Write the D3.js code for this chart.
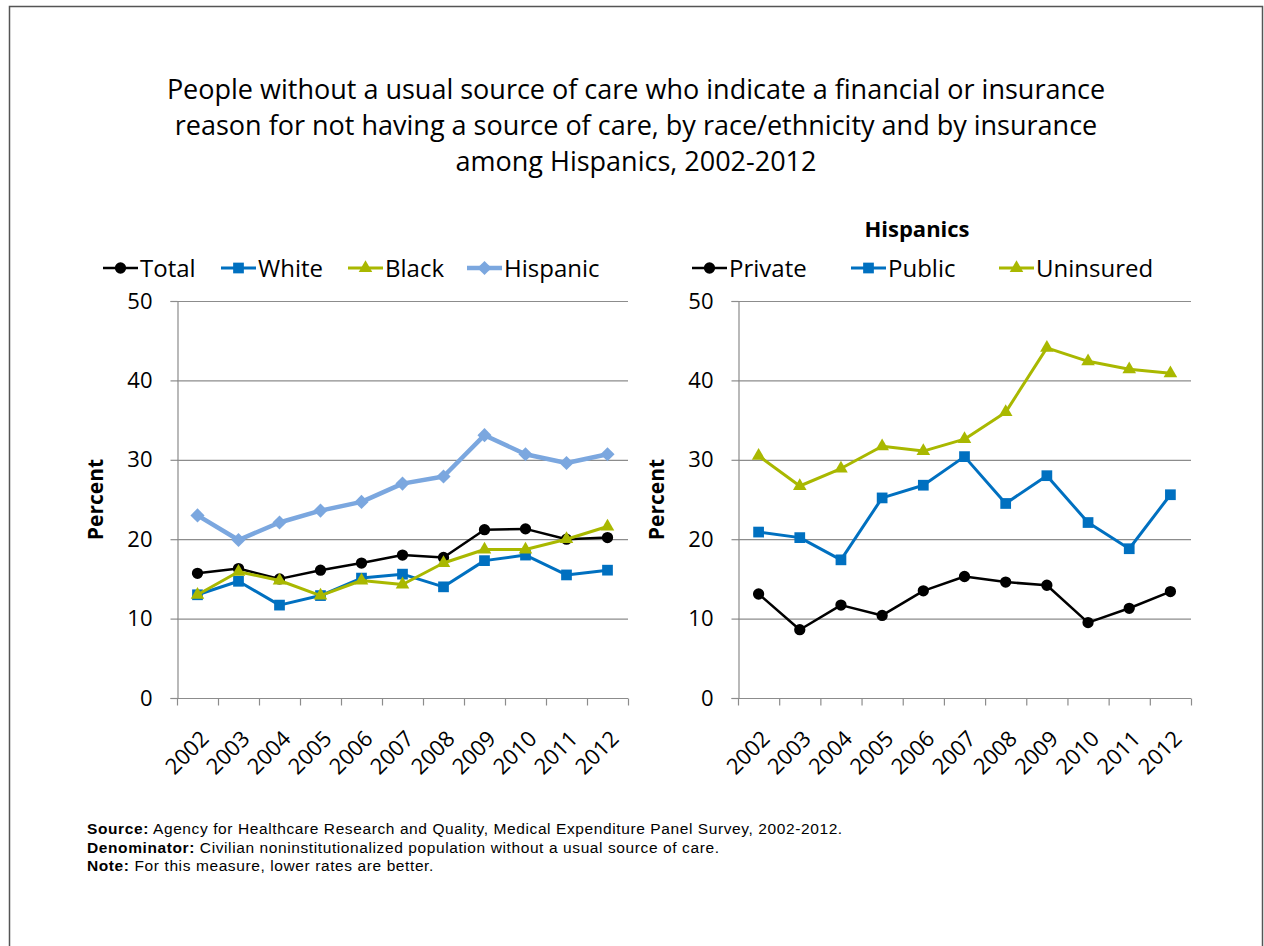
<!DOCTYPE html>
<html>
<head>
<meta charset="utf-8">
<script src="https://cdn.jsdelivr.net/npm/d3@7"></script>
<style>
  body { margin: 0; background: #fff; }
  svg { display: block; }
  .tick text { font-family: "Open Sans", Lato, sans-serif; }
</style>
</head>
<body>
<svg width="1264" height="946"></svg>
<script>
// values
var years = ["2002","2003","2004","2005","2006","2007","2008","2009","2010","2011","2012"];

var total    = [15.7, 16.3, 15.0, 16.1, 17.0, 18.0, 17.7, 21.2, 21.3, 20.0, 20.2];
var white    = [13.0, 14.7, 11.7, 12.9, 15.1, 15.6, 14.0, 17.3, 18.0, 15.5, 16.1];
var black    = [13.0, 15.9, 14.8, 12.9, 14.8, 14.3, 17.0, 18.7, 18.7, 20.0, 21.6];
var hispanic = [23.0, 19.9, 22.1, 23.6, 24.7, 27.0, 27.9, 33.1, 30.7, 29.6, 30.7];

var privateIns = [13.1, 8.6, 11.7, 10.4, 13.5, 15.3, 14.6, 14.2, 9.5, 11.3, 13.4];
var publicIns  = [20.9, 20.2, 17.4, 25.2, 26.8, 30.4, 24.5, 28.0, 22.1, 18.8, 25.6];
var uninsured  = [30.5, 26.7, 28.9, 31.7, 31.1, 32.6, 36.0, 44.1, 42.4, 41.4, 40.9];

var yTicks = [0, 10, 20, 30, 40, 50];

var titleLines = [
    "People without a usual source of care who indicate a financial or insurance",
    "reason for not having a source of care, by race/ethnicity and by insurance",
    "among Hispanics, 2002-2012"
];

var notes = [
    ["Source:", " Agency for Healthcare Research and Quality, Medical Expenditure Panel Survey, 2002-2012."],
    ["Denominator:", " Civilian noninstitutionalized population without a usual source of care."],
    ["Note:", " For this measure, lower rates are better."]
];

var leftSeries = [
    {name: "Total",    values: total,    color: "#000000", width: 2.5, symbol: "circle"},
    {name: "White",    values: white,    color: "#0070C0", width: 3,   symbol: "square"},
    {name: "Black",    values: black,    color: "#A9B800", width: 3,   symbol: "triangle"},
    {name: "Hispanic", values: hispanic, color: "#7BA7DF", width: 4.5, symbol: "diamond"}
];

var rightSeries = [
    {name: "Private",   values: privateIns, color: "#000000", width: 2.5, symbol: "circle"},
    {name: "Public",    values: publicIns,  color: "#0070C0", width: 3,   symbol: "square"},
    {name: "Uninsured", values: uninsured,  color: "#A9B800", width: 3,   symbol: "triangle"}
];

function init() {
    var svg = d3.select("svg");
    var font = "'Open Sans', Lato, sans-serif";
    var gridColor = "#8c8c8c";

    // outer frame
    svg.append("rect")
        .attr("x", 9.5).attr("y", 6.5)
        .attr("width", 1253).attr("height", 960)
        .attr("fill", "none")
        .attr("stroke", "#555").attr("stroke-width", 1.5);

    svg.append("text")
        .attr("font-family", font)
        .attr("font-size", 27)
        .attr("text-anchor", "middle")
        .attr("fill", "#000")
        .selectAll("tspan")
        .data(titleLines)
        .enter().append("tspan")
        .attr("x", 636)
        .attr("y", function(d, i) { return 99 + i * 36; })
        .text(function(d) { return d; });

    function symbolPath(type) {
        if (type === "circle") return d3.symbol().type(d3.symbolCircle).size(100)();
        if (type === "square") return d3.symbol().type(d3.symbolSquare).size(115)();
        if (type === "triangle") return d3.symbol().type(d3.symbolTriangle).size(80)();
        return d3.symbol().type(d3.symbolSquare).size(100)();
    }

    function drawChart(left, right, series, legendX) {
        var top = 301, bottom = 698;

        var x = d3.scaleBand().domain(years).range([left, right]);
        var y = d3.scaleLinear().domain([0, 50]).range([bottom, top]);

        var g = svg.append("g");

        // gridlines
        g.selectAll("line.grid")
            .data(yTicks.filter(function(d) { return d > 0; }))
            .enter().append("line")
            .attr("class", "grid")
            .attr("x1", left).attr("x2", right)
            .attr("y1", function(d) { return y(d) + 0.5; })
            .attr("y2", function(d) { return y(d) + 0.5; })
            .attr("stroke", gridColor).attr("stroke-width", 1.2);

        var yAxis = d3.axisLeft(y).tickValues(yTicks).tickSize(7).tickPadding(18);
        var yg = g.append("g")
            .attr("transform", "translate(" + (left + 0.5) + ",0)")
            .call(yAxis);
        yg.select(".domain").attr("stroke", gridColor).attr("stroke-width", 1.2);
        yg.selectAll(".tick line").attr("stroke", gridColor).attr("stroke-width", 1.2);
        yg.selectAll(".tick text").attr("font-size", 22).attr("fill", "#000");

        // x axis with ticks at band edges
        var xg = g.append("g").attr("transform", "translate(0," + (bottom + 0.5) + ")");
        xg.append("line")
            .attr("x1", left).attr("x2", right)
            .attr("stroke", gridColor).attr("stroke-width", 1.2);
        var edges = years.map(function(d) { return x(d); }).concat([right]);
        xg.selectAll("line.tk")
            .data(edges)
            .enter().append("line")
            .attr("class", "tk")
            .attr("x1", function(d) { return d + 0.5; })
            .attr("x2", function(d) { return d + 0.5; })
            .attr("y1", 0).attr("y2", 7)
            .attr("stroke", gridColor).attr("stroke-width", 1.2);
        xg.selectAll("text")
            .data(years)
            .enter().append("text")
            .attr("transform", function(d) {
                return "translate(" + (x(d) + x.bandwidth() / 2 + 1) + ",30) rotate(-45)";
            })
            .attr("text-anchor", "end")
            .attr("dy", "0.75em")
            .attr("font-family", font)
            .attr("font-size", 22)
            .text(function(d) { return d; });

        // axis title
        g.append("text")
            .attr("transform", "translate(" + (left - 74) + "," + ((top + bottom) / 2) + ") rotate(-90)")
            .attr("text-anchor", "middle")
            .attr("font-family", font)
            .attr("font-weight", "bold")
            .attr("font-size", 21)
            .text("Percent");

        var line = d3.line()
            .x(function(d, i) { return x(years[i]) + x.bandwidth() / 2; })
            .y(function(d) { return y(d); });

        series.forEach(function(s) {
            g.append("path")
                .datum(s.values)
                .attr("d", line)
                .attr("fill", "none")
                .attr("stroke", s.color)
                .attr("stroke-width", s.width)
                .attr("stroke-linejoin", "round");
            g.selectAll("path.m-" + s.name)
                .data(s.values)
                .enter().append("path")
                .attr("class", "m-" + s.name)
                .attr("d", symbolPath(s.symbol))
                .attr("fill", s.color)
                .attr("transform", function(d, i) {
                    var t = "translate(" + (x(years[i]) + x.bandwidth() / 2) + "," + y(d) + ")";
                    return s.symbol === "diamond" ? t + " rotate(45)" : t;
                });
        });

        // legend
        var lg = g.append("g").attr("transform", "translate(0,268)");
        series.forEach(function(s, i) {
            var lx = legendX[i];
            lg.append("line")
                .attr("x1", lx).attr("x2", lx + 35)
                .attr("stroke", s.color)
                .attr("stroke-width", s.width);
            lg.append("path")
                .attr("d", symbolPath(s.symbol))
                .attr("fill", s.color)
                .attr("transform", "translate(" + (lx + 17.5) + ",0)" + (s.symbol === "diamond" ? " rotate(45)" : ""));
            lg.append("text")
                .attr("x", lx + 37)
                .attr("y", 0)
                .attr("dy", "0.36em")
                .attr("font-family", font)
                .attr("font-size", 24)
                .text(s.name);
        });
    }

    drawChart(177, 628, leftSeries, [103, 221, 348, 467]);
    drawChart(738, 1191, rightSeries, [692, 851, 999]);

    svg.append("text")
        .attr("x", 917).attr("y", 237)
        .attr("text-anchor", "middle")
        .attr("font-family", font)
        .attr("font-weight", "bold")
        .attr("font-size", 22)
        .text("Hispanics");

    // footnotes
    var fn = svg.append("g").attr("font-family", "'Liberation Sans', Arial, sans-serif")
        .attr("font-size", 15.5)
        .attr("letter-spacing", 0.6);
    notes.forEach(function(n, i) {
        var t = fn.append("text").attr("x", 87).attr("y", 834 + i * 18.5);
        t.append("tspan").attr("font-weight", "bold").text(n[0]);
        t.append("tspan").text(n[1]);
    });
}

init();
</script>
</body>
</html>
